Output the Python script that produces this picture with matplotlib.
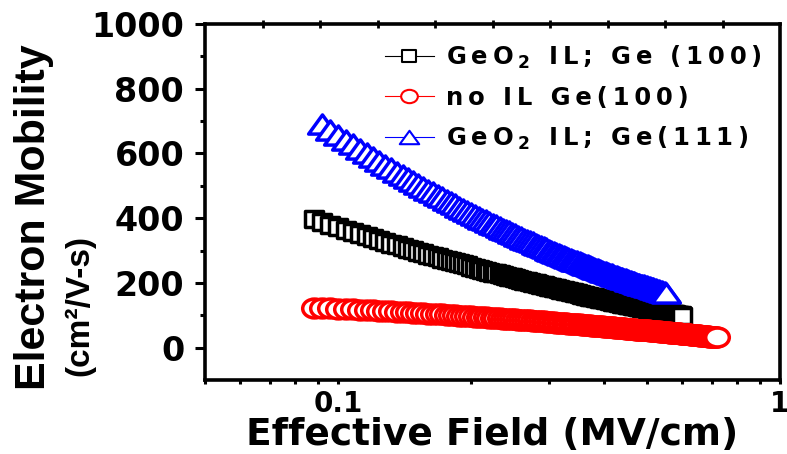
import re
import matplotlib
matplotlib.use('Agg')
import matplotlib.pyplot as plt
from matplotlib.path import Path
from matplotlib.transforms import Affine2D
from matplotlib.ticker import FixedLocator, LogLocator, NullFormatter

plt.rcParams['font.family'] = ['DejaVu Sans']
plt.rcParams['font.weight'] = 'bold'
plt.rcParams['mathtext.default'] = 'bf'

# effective field (MV/cm), shared grid of the three curves
field = [0.088, 0.092, 0.096, 0.100, 0.104, 0.108, 0.112, 0.116, 0.120, 0.124,
         0.128, 0.132, 0.136, 0.140, 0.144, 0.148, 0.152, 0.156, 0.160, 0.164,
         0.168, 0.172, 0.176, 0.180, 0.184, 0.188, 0.192, 0.196, 0.200, 0.204,
         0.208, 0.212, 0.216, 0.220, 0.224, 0.228, 0.232, 0.236, 0.240, 0.244,
         0.248, 0.252, 0.256, 0.260, 0.264, 0.268, 0.272, 0.276, 0.280, 0.284,
         0.288, 0.292, 0.296, 0.300, 0.304, 0.308, 0.312, 0.316, 0.320, 0.324,
         0.328, 0.332, 0.336, 0.340, 0.344, 0.348, 0.352, 0.356, 0.360, 0.364,
         0.368, 0.372, 0.376, 0.380, 0.384, 0.388, 0.392, 0.396, 0.400, 0.404,
         0.408, 0.412, 0.416, 0.420, 0.424, 0.428, 0.432, 0.436, 0.440, 0.444,
         0.448, 0.452, 0.456, 0.460, 0.464, 0.468, 0.472, 0.476, 0.480, 0.484,
         0.488, 0.492, 0.496, 0.500, 0.504, 0.508, 0.512, 0.516, 0.520, 0.524,
         0.528, 0.532, 0.536, 0.540, 0.544, 0.548, 0.552, 0.556, 0.560, 0.564,
         0.568, 0.572, 0.576, 0.580, 0.584, 0.588, 0.592, 0.596, 0.600, 0.604,
         0.608, 0.612, 0.616, 0.620, 0.624, 0.628, 0.632, 0.636, 0.640, 0.644,
         0.648, 0.652, 0.656, 0.660, 0.664, 0.668, 0.672, 0.676, 0.680, 0.684,
         0.688, 0.692, 0.696, 0.700, 0.704, 0.708, 0.712, 0.716, 0.720]

# GeO2 IL; Ge (100)  -> field[0:129]
mu_geo2_100 = [397, 389, 380, 373, 365, 358, 351, 345, 338, 332,
               327, 321, 316, 311, 306, 301, 296, 292, 287, 283,
               279, 275, 271, 268, 264, 260, 257, 254, 250, 247,
               244, 241, 238, 235, 232, 230, 227, 224, 222, 219,
               217, 214, 212, 209, 207, 205, 203, 201, 199, 196,
               194, 192, 190, 188, 187, 185, 183, 181, 179, 177,
               176, 174, 172, 171, 169, 168, 166, 164, 163, 161,
               160, 158, 157, 156, 154, 153, 151, 150, 149, 148,
               146, 145, 144, 142, 141, 140, 139, 138, 136, 135,
               134, 133, 132, 131, 130, 129, 128, 127, 126, 125,
               124, 123, 122, 121, 120, 119, 118, 117, 116, 115,
               114, 113, 112, 111, 110, 110, 109, 108, 107, 106,
               105, 105, 104, 103, 102, 101, 101, 100, 99]

# no IL Ge(100)  -> field[0:159]
mu_noil_100 = [124, 123, 122, 120, 119, 118, 117, 116, 115, 114,
               113, 112, 111, 110, 109, 108, 107, 106, 105, 104,
               104, 103, 102, 101, 100, 99, 98, 98, 97, 96,
               95, 94, 94, 93, 92, 91, 91, 90, 89, 89,
               88, 87, 86, 86, 85, 84, 84, 83, 82, 82,
               81, 81, 80, 79, 79, 78, 77, 77, 76, 76,
               75, 74, 74, 73, 73, 72, 72, 71, 70, 70,
               69, 69, 68, 68, 67, 67, 66, 66, 65, 65,
               64, 64, 63, 63, 62, 62, 61, 61, 60, 60,
               59, 59, 58, 58, 57, 57, 56, 56, 55, 55,
               55, 54, 54, 53, 53, 52, 52, 51, 51, 51,
               50, 50, 49, 49, 49, 48, 48, 47, 47, 46,
               46, 46, 45, 45, 44, 44, 44, 43, 43, 43,
               42, 42, 41, 41, 41, 40, 40, 39, 39, 39,
               38, 38, 38, 37, 37, 37, 36, 36, 35, 35,
               35, 34, 34, 34, 33, 33, 33, 32, 32]

# GeO2 IL; Ge(111)  -> field[1:117]
mu_geo2_111 = [691, 674, 658, 643, 628, 615, 601, 589, 577, 565,
               554, 544, 534, 524, 514, 505, 497, 488, 480, 472,
               464, 457, 450, 443, 436, 429, 423, 417, 411, 405,
               399, 394, 388, 383, 378, 373, 368, 363, 359, 354,
               350, 345, 341, 337, 333, 329, 325, 321, 317, 314,
               310, 307, 303, 300, 296, 293, 290, 287, 284, 281,
               278, 275, 272, 269, 267, 264, 261, 259, 256, 254,
               251, 249, 246, 244, 242, 239, 237, 235, 233, 230,
               228, 226, 224, 222, 220, 218, 216, 214, 213, 211,
               209, 207, 205, 204, 202, 200, 198, 197, 195, 193,
               192, 190, 189, 187, 186, 184, 183, 181, 180, 178,
               177, 176, 174, 173, 172, 170]

labels = ['GeO$_2$ IL; Ge (100)', 'no IL Ge(100)', 'GeO$_2$ IL; Ge(111)']
yticks = [0, 200, 400, 600, 800, 1000]


def track(s, gap='\u2009'):
    # letter spacing like the original, math parts kept whole
    parts = [p for p in re.split(r'(\$[^$]*\$)', s) if p]
    out = []
    for p in parts:
        out.append(p if p.startswith('$') else gap.join(p))
    return gap.join(out)


# the original picture is stretched sideways, so markers are wider than tall
sq_marker = Path([(-1.2, -1), (1.2, -1), (1.2, 1), (-1.2, 1), (-1.2, -1)],
                 [Path.MOVETO, Path.LINETO, Path.LINETO, Path.LINETO, Path.CLOSEPOLY])
tri_marker = Path([(0, 1), (-1.45, -1), (1.45, -1), (0, 1)],
                  [Path.MOVETO, Path.LINETO, Path.LINETO, Path.CLOSEPOLY])
circ_marker = Path.unit_circle().transformed(Affine2D().scale(1.25, 1))

fig = plt.figure(figsize=(7.87, 4.54), dpi=100)
ax = fig.add_axes([205 / 787, 74 / 454, 575 / 787, 356 / 454])

ax.plot(field[:129], mu_geo2_100, color='black', lw=1, marker=sq_marker, ms=13,
        mfc='white', mec='black', mew=2.5, label=track(labels[0]), zorder=3)
ax.plot(field[:159], mu_noil_100, color='red', lw=1, marker=circ_marker, ms=17,
        mfc='white', mec='red', mew=2.5, label=track(labels[1]), zorder=4)
ax.plot(field[1:117], mu_geo2_111, color='blue', lw=1, marker=tri_marker, ms=20,
        mfc='white', mec='blue', mew=2.5, label=track(labels[2]), zorder=5)

ax.set_xscale('log')
ax.set_xlim(0.05, 1)
ax.set_ylim(-100, 1000)
ax.set_xticks([0.1, 1])
ax.set_xticklabels(['0.1', '1'])
ax.xaxis.set_minor_locator(LogLocator(subs=[2, 3, 4, 5, 6, 7, 8, 9]))
ax.xaxis.set_minor_formatter(NullFormatter())
ax.set_yticks(yticks)
ax.yaxis.set_minor_locator(FixedLocator([100, 300, 500, 700, 900]))

for sp in ax.spines.values():
    sp.set_linewidth(2.6)
ax.tick_params(axis='y', which='major', direction='out', length=7, width=2.2,
               labelsize=24, pad=8)
ax.tick_params(axis='y', which='minor', direction='out', length=3.6, width=2.2)
ax.tick_params(axis='x', which='both', direction='out', length=3, width=2.2,
               labelsize=20, pad=4)

# top axis carries plain evenly spaced ticks, no labels
ax_top = ax.twiny()
ax_top.set_xlim(0, 10)
ax_top.set_xticks(range(1, 10))
ax_top.tick_params(axis='x', direction='inout', length=6, width=2, labeltop=False)
for sp in ax_top.spines.values():
    sp.set_visible(False)

leg = ax.legend(loc='upper left', bbox_to_anchor=(0.313, 0.944), frameon=False,
                fontsize=17.5, handlelength=2.0, handletextpad=0.5, labelspacing=0.6,
                borderpad=0, borderaxespad=0)
for h, ms in zip(leg.legend_handles, [10, 12, 14]):
    h.set_markersize(ms)
    h.set_markeredgewidth(1.5)
    h.set_linewidth(0.8)

fig.text(34 / 787, (454 - 390) / 454, 'Electron Mobility', rotation=90, ha='center',
         va='bottom', fontsize=31, family='Liberation Sans', weight='bold')
fig.text(80 / 787, (454 - 376) / 454, '(cm\u00b2/V-s)', rotation=90, ha='center',
         va='bottom', fontsize=24, family='Liberation Sans', weight='bold')
fig.text(492 / 787, (454 - 445) / 454, 'Effective Field (MV/cm)', ha='center',
         va='baseline', fontsize=27, weight='bold')

fig.savefig('out.png', dpi=100)
